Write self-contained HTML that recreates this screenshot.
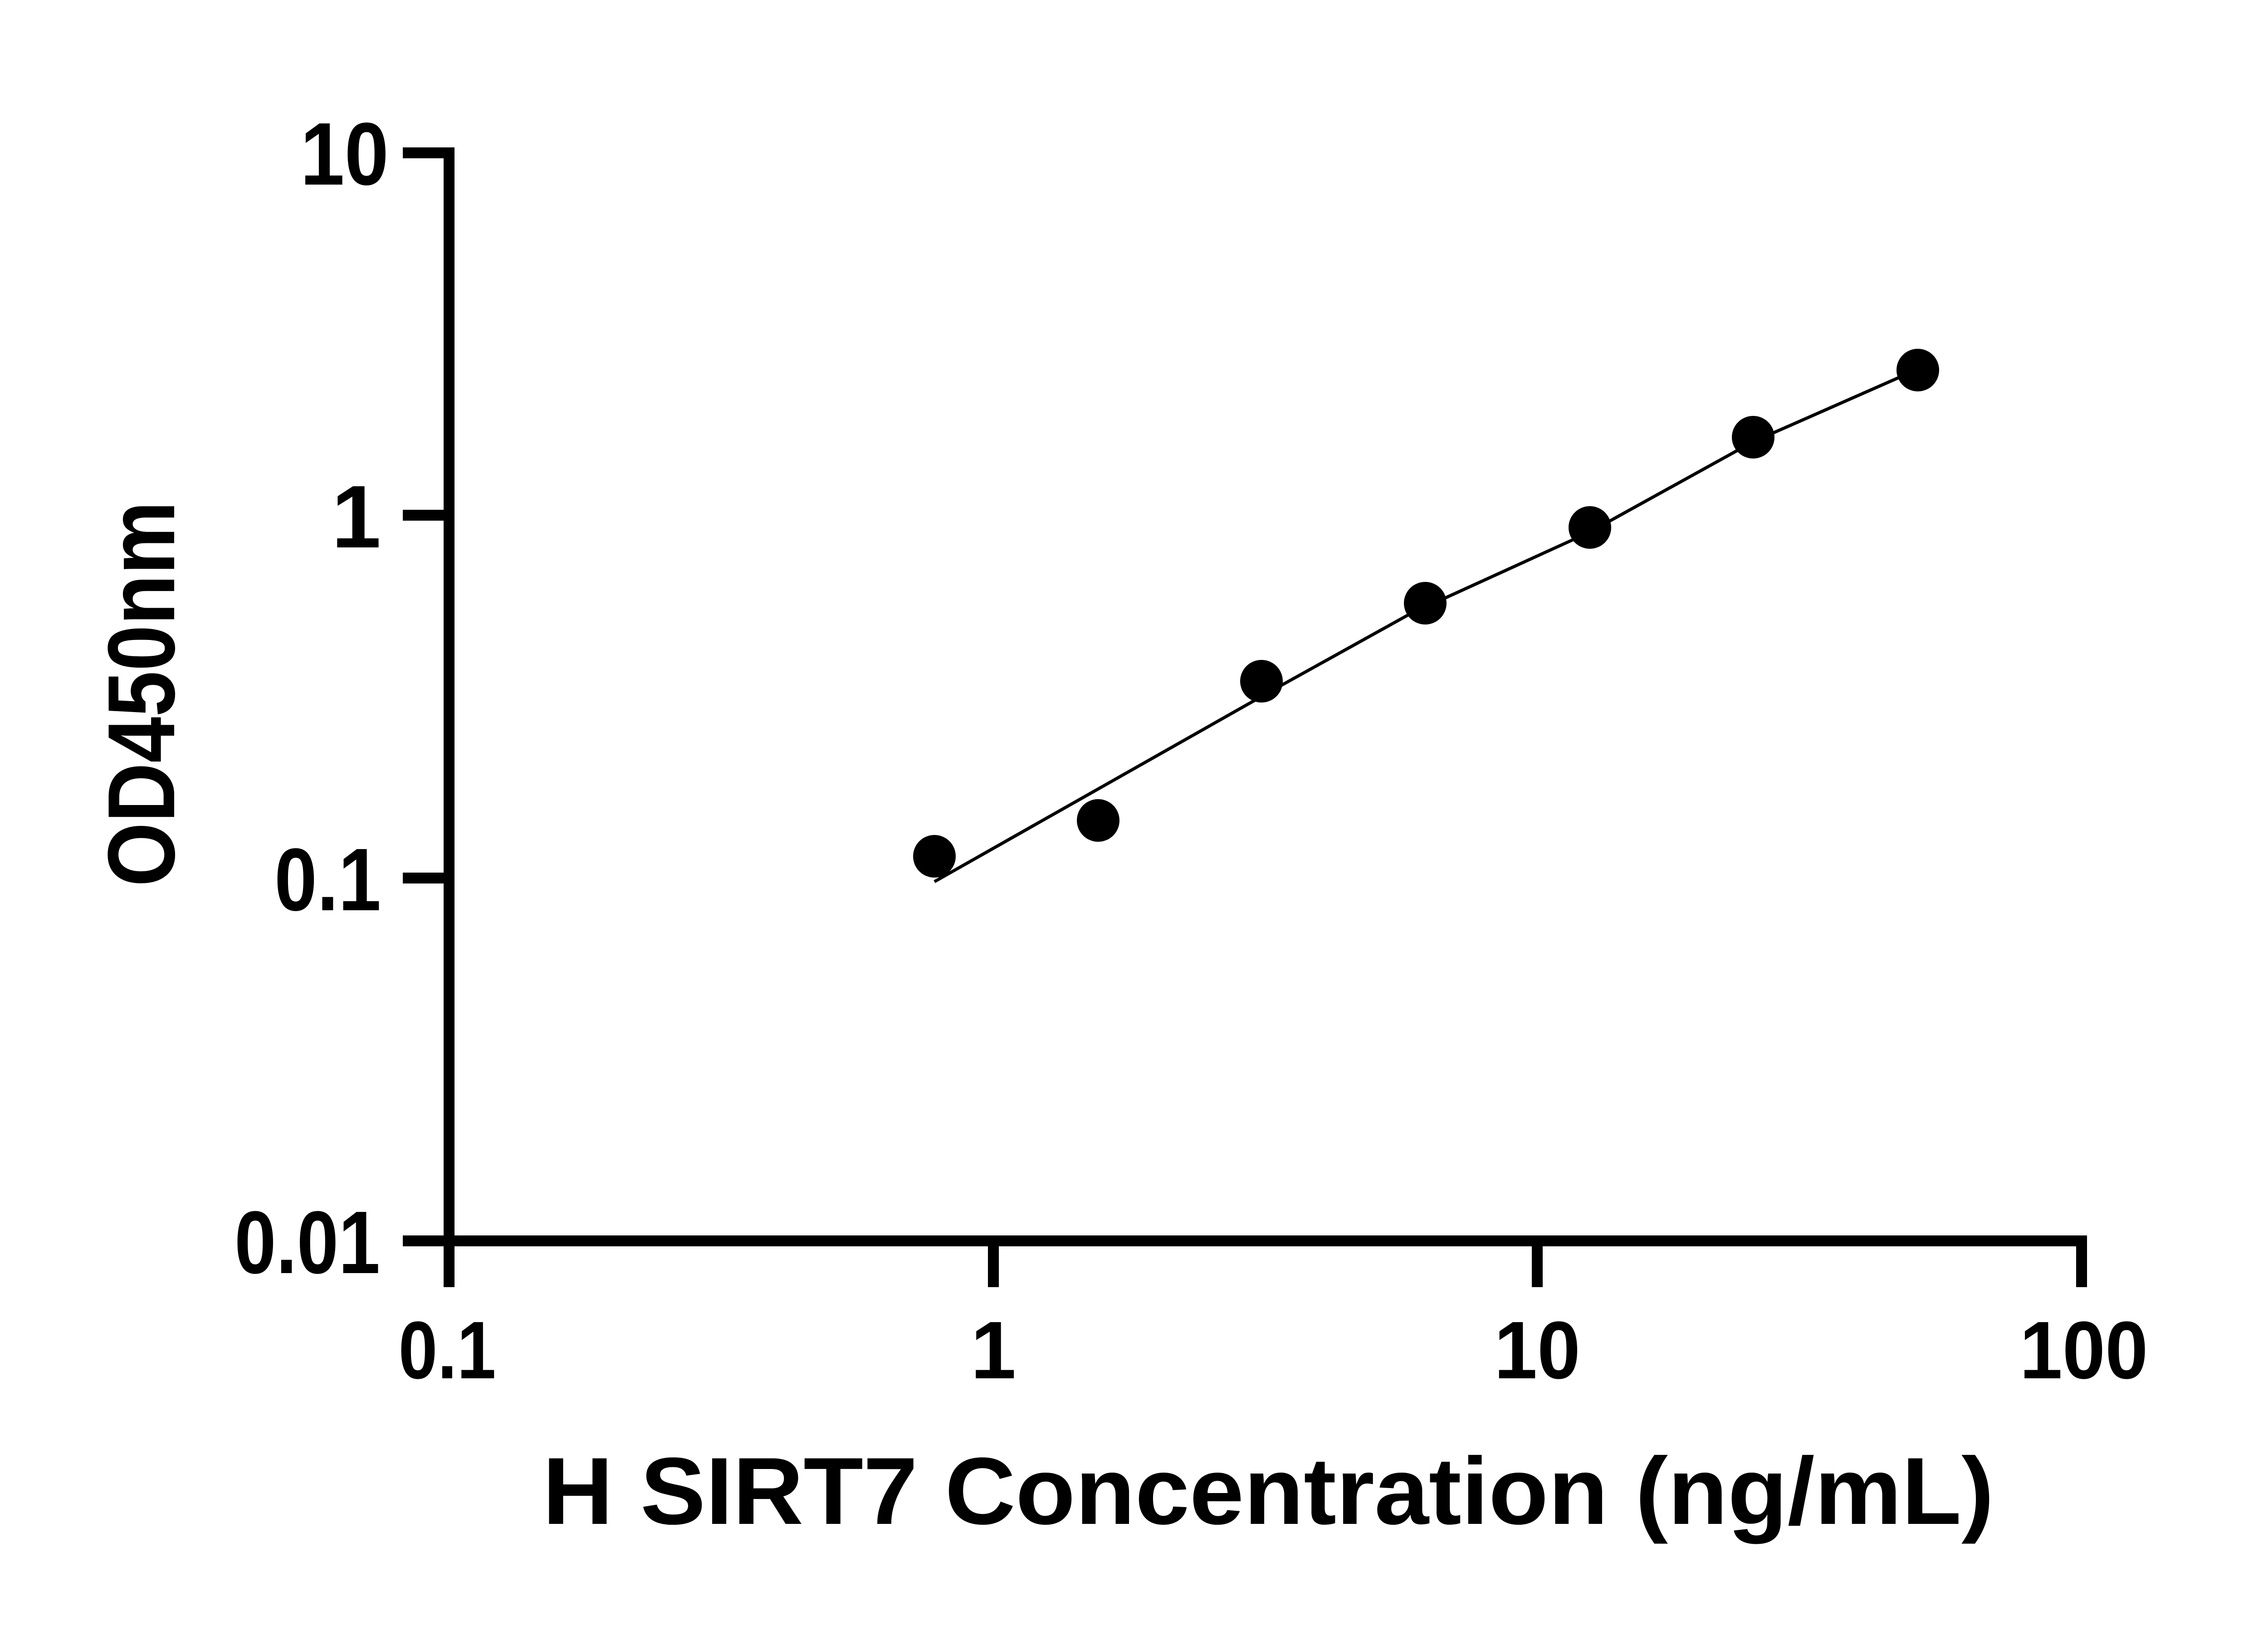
<!DOCTYPE html>
<html><head><meta charset="utf-8"><style>html,body{margin:0;padding:0;background:#fff}</style></head>
<body>
<svg width="5142" height="3600" xmlns="http://www.w3.org/2000/svg" font-family="'Liberation Sans', sans-serif" font-weight="bold">
<rect width="5142" height="3600" fill="#fff"/>
<!-- axes -->
<line x1="990" y1="325" x2="990" y2="2838" stroke="#000" stroke-width="24"/>
<line x1="978" y1="2736" x2="4601" y2="2736" stroke="#000" stroke-width="24"/>
<g stroke="#000" stroke-width="24">
<line x1="888" y1="337" x2="990" y2="337"/>
<line x1="888" y1="1136" x2="990" y2="1136"/>
<line x1="888" y1="1936" x2="990" y2="1936"/>
<line x1="888" y1="2736" x2="990" y2="2736"/>
<line x1="2190" y1="2736" x2="2190" y2="2838"/>
<line x1="3389" y1="2736" x2="3389" y2="2838"/>
<line x1="4589" y1="2724" x2="4589" y2="2838"/>
</g>
<!-- y tick labels -->
<g font-size="196" text-anchor="end">
<text x="857" y="407" textLength="195" lengthAdjust="spacingAndGlyphs">10</text>
<text x="840" y="1207">1</text>
<text x="840" y="2007" textLength="235" lengthAdjust="spacingAndGlyphs">0.1</text>
<text x="838" y="2807" textLength="321" lengthAdjust="spacingAndGlyphs">0.01</text>
</g>
<!-- x tick labels -->
<g font-size="180" text-anchor="middle">
<text x="986" y="3039" textLength="215" lengthAdjust="spacingAndGlyphs">0.1</text>
<text x="2190" y="3039">1</text>
<text x="3389" y="3039" textLength="190" lengthAdjust="spacingAndGlyphs">10</text>
<text x="4594" y="3039" textLength="283" lengthAdjust="spacingAndGlyphs">100</text>
</g>
<!-- x title -->
<text x="2796" y="3360" font-size="210" text-anchor="middle" textLength="3200" lengthAdjust="spacingAndGlyphs">H SIRT7 Concentration (ng/mL)</text>
<!-- y title -->
<text transform="translate(384,1530) rotate(-90)" font-size="210" text-anchor="middle" textLength="850" lengthAdjust="spacingAndGlyphs">OD450nm</text>
<!-- fit line -->
<polyline points="2060,1944 2807,1521 3106,1355 3505,1173 3865,974 4185,833 4228,816" fill="none" stroke="#000" stroke-width="7"/>
<!-- points -->
<g fill="#000">
<circle cx="2060" cy="1888" r="47"/>
<circle cx="2421" cy="1809" r="47"/>
<circle cx="2781" cy="1502" r="47"/>
<circle cx="3142" cy="1330" r="47"/>
<circle cx="3505" cy="1163" r="47"/>
<circle cx="3865" cy="964" r="47"/>
<circle cx="4228" cy="816" r="47"/>
</g>
</svg>
</body></html>
